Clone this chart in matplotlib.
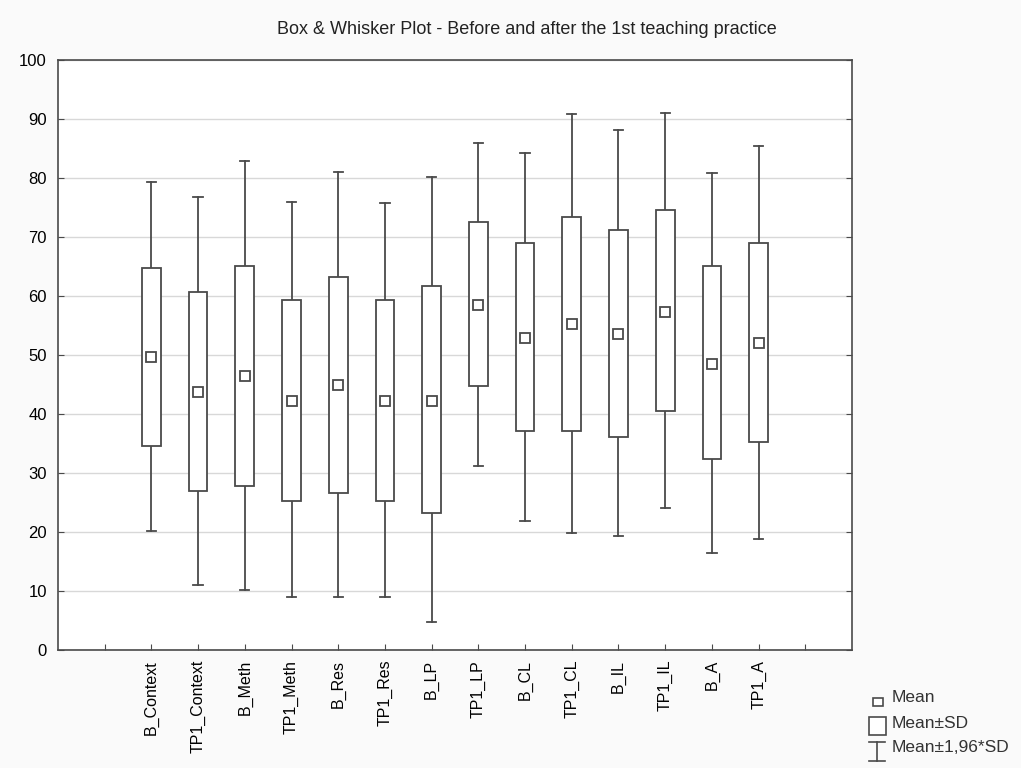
import numpy as np
import matplotlib
matplotlib.use('Agg')
import matplotlib.pyplot as plt
from matplotlib.patches import Rectangle
from matplotlib.lines import Line2D

plt.rcParams['font.family'] = ['Liberation Sans', 'DejaVu Sans']

labels = ['B_Context', 'TP1_Context', 'B_Meth', 'TP1_Meth', 'B_Res', 'TP1_Res',
          'B_LP', 'TP1_LP', 'B_CL', 'TP1_CL', 'B_IL', 'TP1_IL', 'B_A', 'TP1_A']
means = [49.6, 43.8, 46.4, 42.2, 44.9, 42.2, 42.2, 58.5, 52.9, 55.3, 53.6, 57.3, 48.5, 52.0]
sd_lo = [34.6, 26.9, 27.8, 25.2, 26.6, 25.2, 23.2, 44.7, 37.1, 37.1, 36.1, 40.5, 32.4, 35.3]
sd_hi = [64.8, 60.6, 65.0, 59.4, 63.2, 59.4, 61.7, 72.6, 69.0, 73.4, 71.2, 74.6, 65.0, 69.0]
ci_lo = [20.2, 11.0, 10.1, 9.0, 9.0, 9.0, 4.7, 31.2, 21.9, 19.8, 19.3, 24.1, 16.5, 18.8]
ci_hi = [79.3, 76.8, 82.8, 75.9, 81.0, 75.7, 80.1, 85.9, 84.3, 90.8, 88.1, 91.0, 80.8, 85.4]

ink = '#4a4a4a'
fig = plt.figure(figsize=(10.21, 7.68), dpi=100, facecolor='#fafafa')
ax = fig.add_axes([0.0568, 0.1536, 0.7777, 0.7683])

x = np.arange(1, len(labels) + 1)
w = 0.4   # box width
cap = 0.2  # whisker cap width
for xi, m, lo, hi, wl, wh in zip(x, means, sd_lo, sd_hi, ci_lo, ci_hi):
    ax.plot([xi, xi], [hi, wh], color=ink, lw=1.3, zorder=3)
    ax.plot([xi, xi], [wl, lo], color=ink, lw=1.3, zorder=3)
    ax.plot([xi - cap/2, xi + cap/2], [wh, wh], color=ink, lw=1.3, zorder=3)
    ax.plot([xi - cap/2, xi + cap/2], [wl, wl], color=ink, lw=1.3, zorder=3)
    ax.add_patch(Rectangle((xi - w/2, lo), w, hi - lo, facecolor='white',
                           edgecolor=ink, lw=1.3, zorder=3))
ax.plot(x, means, ls='none', marker='s', ms=7, mfc='white', mec=ink, mew=1.3, zorder=4)

ax.set_xlim(-1, 16)
ax.set_ylim(0, 100)
ax.set_yticks(np.arange(0, 101, 10))
ax.set_xticks(np.arange(0, 16))
ax.set_xticklabels([''] + labels + [''], rotation=90, fontsize=11.5)
ax.tick_params(axis='y', labelsize=12, direction='in', right=True, pad=8, length=4, color=ink)
ax.tick_params(axis='x', direction='in', pad=7, length=4, color=ink)
ax.grid(axis='y', color='#d8d8d8', lw=1)
ax.set_axisbelow(True)
for s in ax.spines.values():
    s.set_color(ink)
    s.set_linewidth(1.2)

fig.text(0.516, 0.961, 'Box & Whisker Plot - Before and after the 1st teaching practice',
         ha='center', va='center', fontsize=13, color='#222222')

# legend drawn by hand below the plot, right side
def px(xp, yp):
    return xp / 1021, 1 - yp / 768

x0, y0 = px(873, 706)
fig.patches.append(Rectangle((x0, y0), 10/1021, 8/768, transform=fig.transFigure,
                             facecolor='white', edgecolor=ink, lw=1.2))
x0, y0 = px(869, 735)
fig.patches.append(Rectangle((x0, y0), 17/1021, 18/768, transform=fig.transFigure,
                             facecolor='white', edgecolor=ink, lw=1.2))
for xs, ys in [([877, 877], [742, 761]), ([869, 885], [742, 742]), ([869, 885], [761, 761])]:
    pts = [px(a, b) for a, b in zip(xs, ys)]
    fig.lines.append(Line2D([p[0] for p in pts], [p[1] for p in pts],
                            transform=fig.transFigure, color=ink, lw=1.2))
for txt, yp in [('Mean', 698), ('Mean±SD', 723), ('Mean±1,96*SD', 748)]:
    tx, ty = px(892, yp)
    fig.text(tx, ty, txt, ha='left', va='center', fontsize=12.5, color='#333333')

fig.savefig('out.png', dpi=100, facecolor=fig.get_facecolor())
